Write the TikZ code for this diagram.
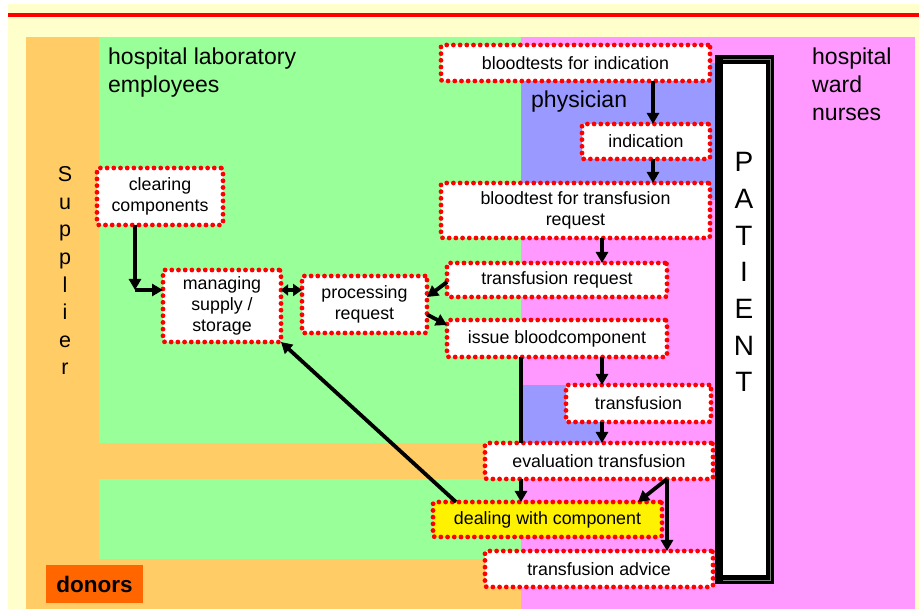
\documentclass[tikz,border=0pt]{standalone}
\usepackage{fontspec}
\setmainfont{Liberation Sans}
\usetikzlibrary{arrows.meta}

\definecolor{paper}{HTML}{FFFFCC}
\definecolor{supplier}{HTML}{FFCC66}
\definecolor{lab}{HTML}{99FF99}
\definecolor{ward}{HTML}{FF99FF}
\definecolor{doctor}{HTML}{9999FF}
\definecolor{donor}{HTML}{FF6600}

\newcommand{\procfont}{\fontsize{17.8}{21}\selectfont}
\newcommand{\lanefont}{\fontsize{23}{27.6}\selectfont}
\newcommand{\patfont}{\fontsize{28}{28}\selectfont}

\tikzset{
  task/.style={draw=red, fill=white, line width=4.8pt, line cap=round,
    dash pattern=on 0pt off 6.7pt, rounded corners=2pt, align=center,
    inner sep=0pt, outer sep=0pt, font=\procfont},
  flow/.style={line width=3.8pt, -{Triangle[length=11pt,width=12pt]}},
  twoway/.style={line width=3.8pt, {Triangle[length=7pt,width=11pt]}-{Triangle[length=9pt,width=12pt]}},
  lane/.style={font=\lanefont, align=left, inner sep=0pt}
}

\begin{document}
\begin{tikzpicture}[x=1pt, y=-1pt]
  \useasboundingbox (0,0) rectangle (919,609);

  % Paper
  \fill[paper] (8,4) rectangle (919,609);
  \draw[red, line width=3.3pt] (8,15) -- (919,15);

  % Lanes
  \fill[supplier] (26,37) rectangle (521,609);
  \fill[lab] (99,37) rectangle (521,443);
  \fill[lab] (99,479) rectangle (521,559);
  \fill[ward] (521,37) rectangle (915,609);
  \fill[doctor] (521,63) rectangle (715,200);
  \fill[doctor] (521,385) rectangle (601,443);

  % Lane names
  \node[lane, anchor=north west] (labname) at (108,48) {hospital laboratory\\employees};
  \node[lane, anchor=north west] (wardname) at (812,48) {hospital\\ward\\nurses};
  \node[lane, anchor=base west] (docname) at (531,108) {physician};
  \foreach \ch [count=\i] in {S,u,p,p,l,i,e,r}
    \node[font=\fontsize{21.5}{24}\selectfont, anchor=base] (sup\i) at (65,{181.7+27.6*(\i-1)}) {\ch};
  \node[fill=donor, font=\bfseries\fontsize{22.5}{24}\selectfont, inner sep=0pt,
    minimum width=97pt, minimum height=38pt] (donors) at (94.5,584) {donors};

  % Patient
  \begin{scope}
    \fill[black] (715,55) rectangle (774,584);
    \fill[white] (723,64) rectangle (766,575);
    \draw[gray, line width=0.8pt] (723,59.5) -- (770,59.5) -- (770,580) -- (723,580);
    \foreach \ch [count=\i] in {P,A,T,I,E,N,T}
      \node[font=\patfont, anchor=base] (pat\i) at (744,{171.7+36.67*(\i-1)}) {\ch};
  \end{scope}

  % Tasks
  \node[task, minimum width=269pt, minimum height=36pt] (bti) at (575.5,63) {bloodtests for indication};
  \node[task, minimum width=128pt, minimum height=35pt] (ind) at (646,141.5) {indication};
  \node[task, minimum width=269pt, minimum height=55pt] (btr) at (575.5,210.5) {bloodtest for transfusion\\request};
  \node[task, minimum width=126pt, minimum height=57pt] (clr) at (160,196.5) {clearing\\components};
  \node[task, minimum width=118pt, minimum height=72pt] (msu) at (222,306) {managing\\supply /\\storage};
  \node[task, minimum width=125pt, minimum height=57pt] (prq) at (364.5,304.5) {processing\\request};
  \node[task, minimum width=220pt, minimum height=34pt] (trq) at (557,280) {transfusion request};
  \node[task, minimum width=220pt, minimum height=37pt] (iss) at (557,338.5) {issue bloodcomponent};
  \node[task, minimum width=145pt, minimum height=37pt] (trf) at (638.5,403.5) {transfusion};
  \node[task, minimum width=228pt, minimum height=36pt] (evl) at (599,461) {evaluation transfusion};
  \node[task, fill=yellow, minimum width=229pt, minimum height=35pt] (dwc) at (547.5,519.5) {dealing with component};
  \node[task, minimum width=228pt, minimum height=36pt] (adv) at (599,569) {transfusion advice};

  % Flows
  \coordinate (colA) at (653,0);
  \coordinate (colB) at (602,0);
  \coordinate (colC) at (521,0);
  \coordinate (colD) at (667,0);
  \coordinate (rowA) at (0,290);
  \coordinate (bend) at (135,290);
  \draw[flow] (bti.south -| colA) -- (ind.north -| colA);
  \draw[flow] (ind.south -| colA) -- (btr.north -| colA);
  \draw[flow] (btr.south -| colB) -- (trq.north -| colB);
  \draw[flow] ([yshift=-2pt]trq.west) -- ([yshift=7.5pt]prq.east);
  \draw[flow] ([yshift=-10pt]prq.east) -- ([yshift=13.5pt]iss.west);
  \draw[twoway] (msu.east |- rowA) -- (prq.west |- rowA);
  \draw[flow] (clr.south -| bend) -- (bend);
  \draw[flow] (bend) -- (msu.west |- bend);
  \draw[flow] (iss.south -| colB) -- (trf.north -| colB);
  \draw[flow] (trf.south -| colB) -- (evl.north -| colB);
  \draw[line width=3.8pt] (iss.south -| colC) -- (evl.north -| colC);
  \draw[flow] (evl.south -| colC) -- (dwc.north -| colC);
  \draw[flow] (evl.south -| colD) -- ([xshift=-24pt]dwc.north east);
  \draw[flow] (evl.south -| colD) -- (adv.north -| colD);
  \draw[flow] ([xshift=23pt]dwc.north west) -- (msu.south east);
\end{tikzpicture}
\end{document}
